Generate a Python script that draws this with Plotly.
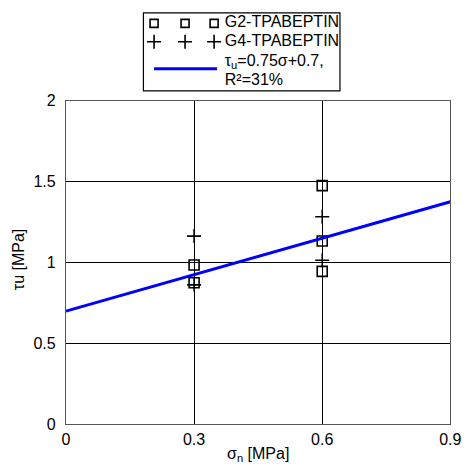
import plotly.graph_objects as go

# Test results: normal stress sigma_n [MPa] vs peak shear stress tau_u [MPa]
g2_sigma = [0.3, 0.3, 0.6, 0.6, 0.6]
g2_tau = [0.985, 0.875, 1.475, 1.133, 0.945]

g4_sigma = [0.3, 0.3, 0.6, 0.6]
g4_tau = [1.163, 0.862, 1.283, 1.014]

# Linear fit tau = a*sigma + b
fit_slope = 0.75
fit_intercept = 0.7
fit_sigma = [0.0, 0.9]

x_ticks = [0, 0.3, 0.6, 0.9]
x_tick_text = ["0", "0.3", "0.6", "0.9"]
y_ticks = [0, 0.5, 1, 1.5, 2]
y_tick_text = ["0", "0.5", "1", "1.5", "2"]

legend_labels = ["G2-ΤΡΑΒΕΡΤΙΝΗΣ", "G4-ΤΡΑΒΕΡΤΙΝΗΣ",
                 "τ<sub>u</sub>=0.75σ+0.7,", "R²=31%"]

W, H = 472, 473
FONT = "Liberation Sans, Arial, sans-serif"
FS = 16


def px(x):
    return x / W


def py(y):
    return 1 - y / H


fit_tau = [fit_slope * s + fit_intercept for s in fit_sigma]

fig = go.Figure()

fig.add_trace(go.Scatter(
    x=g2_sigma, y=g2_tau, mode="markers", name=legend_labels[0],
    marker=dict(symbol="square-open", size=10, color="black",
                line=dict(width=1.6, color="black")),
))
fig.add_trace(go.Scatter(
    x=g4_sigma, y=g4_tau, mode="markers", name=legend_labels[1],
    marker=dict(symbol="cross-thin", size=10, color="black",
                line=dict(width=1.6, color="black")),
))
fig.add_trace(go.Scatter(
    x=fit_sigma, y=fit_tau, mode="lines", name="fit",
    line=dict(color="#0000FF", width=3),
))

# Legend box: its own small axis in pixel-like units, so the labels are
# clipped at the frame like the original key
leg_x0, leg_x1, leg_y0, leg_y1 = 144, 347, 5, 86
sym_x = [155, 187, 217]
fig.add_trace(go.Scatter(
    x=sym_x, y=[16] * 3, mode="markers", xaxis="x2", yaxis="y2",
    marker=dict(symbol="square-open", size=8, color="black",
                line=dict(width=1.6, color="black")),
    hoverinfo="skip",
))
fig.add_trace(go.Scatter(
    x=sym_x, y=[35] * 3, mode="markers", xaxis="x2", yaxis="y2",
    marker=dict(symbol="cross-thin", size=10, color="black",
                line=dict(width=1.6, color="black")),
    hoverinfo="skip",
))
fig.add_trace(go.Scatter(
    x=[155, 220], y=[63, 63], mode="lines", xaxis="x2", yaxis="y2",
    line=dict(color="#0000FF", width=3), hoverinfo="skip",
))
fig.add_trace(go.Scatter(
    x=[228] * 4, y=[16, 35, 56, 76], mode="text", xaxis="x2", yaxis="y2",
    text=legend_labels, textposition="middle right", cliponaxis=True,
    textfont=dict(family=FONT, size=16, color="black"),
    hoverinfo="skip",
))

axis_common = dict(
    showgrid=True, gridcolor="black", gridwidth=1,
    showline=True, linecolor="#555555", linewidth=1.2, mirror=True,
    zeroline=False, ticks="",
    tickfont=dict(family=FONT, size=FS, color="black"),
)

fig.update_layout(
    width=W, height=H,
    margin=dict(l=0, r=0, t=0, b=0),
    paper_bgcolor="white", plot_bgcolor="white",
    showlegend=False,
    font=dict(family=FONT, size=FS, color="black"),
    xaxis=dict(domain=[px(64), px(461)], range=[0, 0.9],
               tickvals=x_ticks, ticktext=x_tick_text,
               ticklabeloverflow="allow", **axis_common),
    yaxis=dict(domain=[py(432), py(96)], range=[0, 2],
               tickvals=y_ticks, ticktext=y_tick_text,
               ticklabelstandoff=6, **axis_common),
    xaxis2=dict(domain=[px(leg_x0), px(leg_x1)], range=[leg_x0, leg_x1],
                visible=False, anchor="y2"),
    yaxis2=dict(domain=[py(leg_y1), py(leg_y0)], range=[leg_y1, leg_y0],
                visible=False, anchor="x2"),
)

# Legend frame
fig.add_shape(type="rect", xref="paper", yref="paper",
              x0=px(leg_x0), x1=px(leg_x1), y0=py(leg_y1), y1=py(leg_y0),
              line=dict(color="black", width=1.2), fillcolor="rgba(0,0,0,0)",
              layer="above")

# Axis titles
fig.add_annotation(text="σ<sub>n</sub> [MPa]", xref="paper", yref="paper",
                   x=px(262), y=py(463), xanchor="center", yanchor="middle",
                   showarrow=False, font=dict(family=FONT, size=FS))
fig.add_annotation(text="τu [MPa]", xref="paper", yref="paper",
                   x=px(15), y=py(261), xanchor="center", yanchor="middle",
                   textangle=-90, showarrow=False,
                   font=dict(family=FONT, size=FS))

fig.write_html("out.html")
